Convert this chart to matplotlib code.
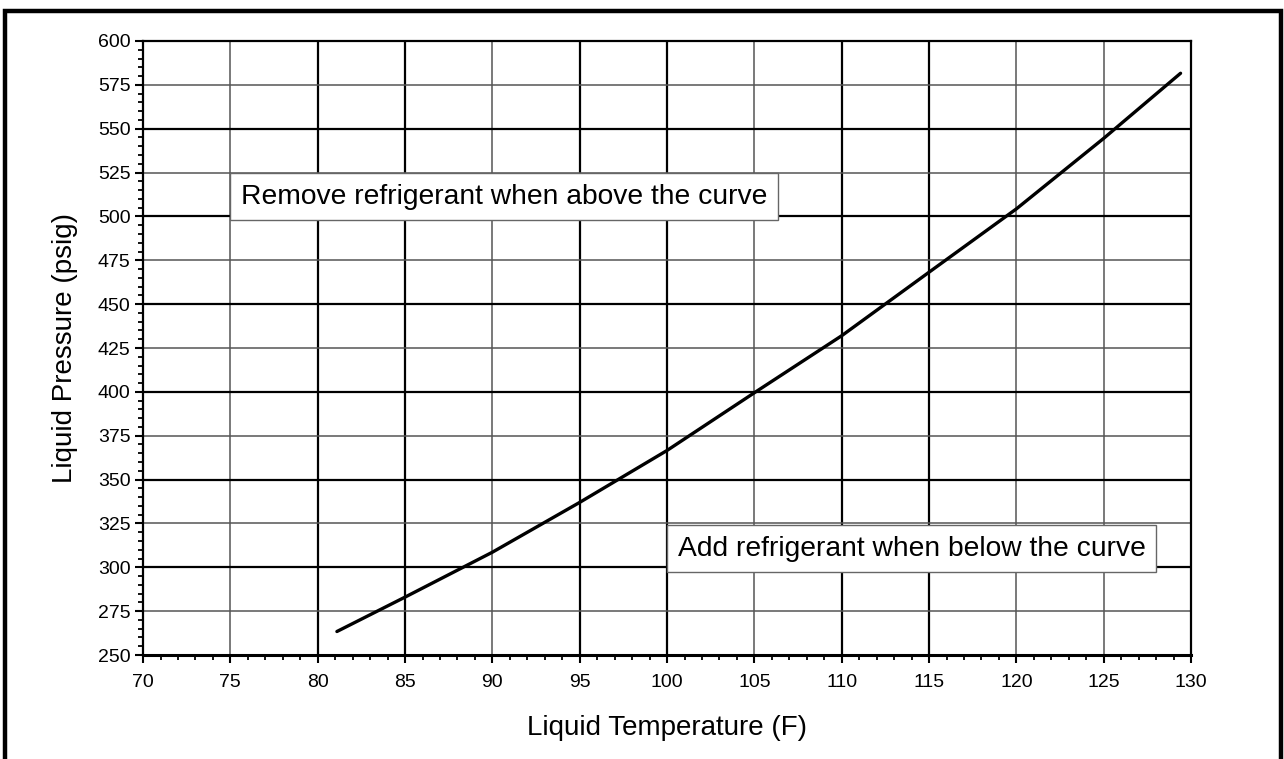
import matplotlib
matplotlib.use("Agg")
import matplotlib.pyplot as plt
from matplotlib.patches import Rectangle
from matplotlib.ticker import MultipleLocator

plt.rcParams["font.family"] = ["Liberation Sans", "DejaVu Sans"]

# curve
temperature = [81.1, 85, 90, 95, 100, 105, 110, 115, 120, 125, 129.4]
pressure = [263.4, 283.0, 308.6, 337.0, 366.6, 399.5, 432.0, 468.2, 504.3, 544.5, 581.6]

x_ticks = list(range(70, 131, 5))
y_ticks = list(range(250, 601, 25))

# grid lines that print heavy in the original
heavy_x = [80, 85, 95, 100, 110, 115]
heavy_y = [300, 350, 400, 450, 500, 550]

note_above = "Remove refrigerant when above the curve"
note_below = "Add refrigerant when below the curve"

fig = plt.figure(figsize=(12.84, 7.59), dpi=100)
ax = fig.add_axes([0.1114, 0.137, 0.8162, 0.809])

# outer frame, bottom edge runs off the page
fig.patches.append(Rectangle((5 / 1284, -0.05), 1276 / 1284, 1.05 - 11 / 759,
                             transform=fig.transFigure, fill=False,
                             edgecolor="black", linewidth=3.2, zorder=10))

for xv in x_ticks[1:-1]:
    if xv in heavy_x:
        ax.axvline(xv, color="black", linewidth=1.6, zorder=1)
    else:
        ax.axvline(xv, color="#555555", linewidth=1.1, zorder=1)
for yv in y_ticks[1:-1]:
    if yv in heavy_y:
        ax.axhline(yv, color="black", linewidth=1.6, zorder=1)
    else:
        ax.axhline(yv, color="#555555", linewidth=1.1, zorder=1)

ax.plot(temperature, pressure, color="black", linewidth=2.4,
        solid_capstyle="round", solid_joinstyle="round", zorder=3)

box = dict(boxstyle="square,pad=0.38", facecolor="white",
           edgecolor="#666666", linewidth=1.0)
ax.text(75.62, 511.3, note_above, fontsize=20.3, ha="left", va="center",
        bbox=box, zorder=4)
ax.text(100.62, 310.7, note_below, fontsize=20.3, ha="left", va="center",
        bbox=box, zorder=4)

ax.set_xlim(70, 130)
ax.set_ylim(250, 600)
ax.set_xticks(x_ticks)
ax.set_yticks(y_ticks)
ax.xaxis.set_minor_locator(MultipleLocator(1))
ax.yaxis.set_minor_locator(MultipleLocator(5))
ax.tick_params(axis="both", which="major", direction="out", length=6,
               width=1.5, labelsize=14, color="black")
ax.tick_params(axis="both", which="minor", direction="out", length=3.5,
               width=1.3, color="black")
ax.tick_params(axis="x", which="major", pad=8)
ax.tick_params(axis="y", which="major", pad=3)

for side in ["left", "top", "right"]:
    ax.spines[side].set_linewidth(1.6)
ax.spines["bottom"].set_linewidth(2.2)

ax.set_xlabel("Liquid Temperature (F)", fontsize=20, labelpad=17)
ax.set_ylabel("Liquid Pressure (psig)", fontsize=20, labelpad=14)

fig.savefig("out.png", dpi=100)
